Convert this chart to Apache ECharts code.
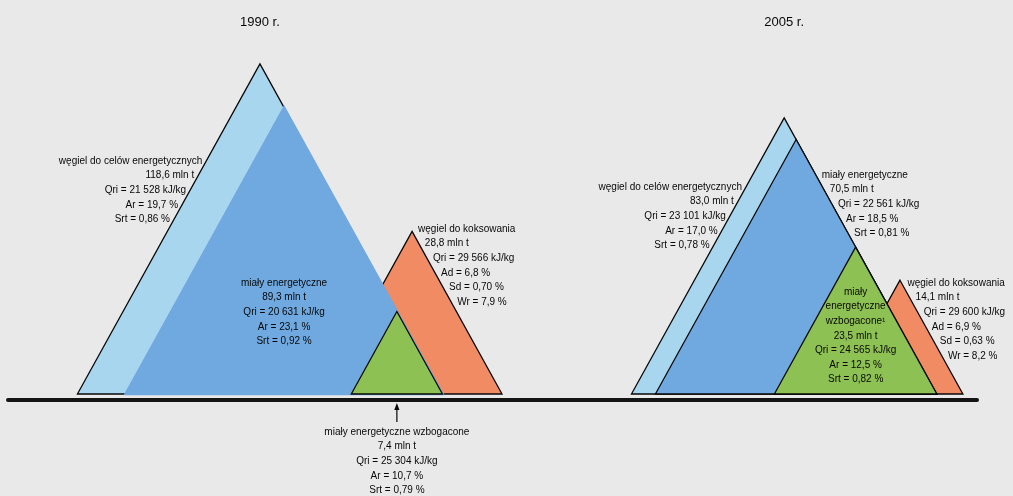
<!DOCTYPE html>
<html lang="pl">
<head>
<meta charset="utf-8">
<title>Wydobycie węgla kamiennego – 1990 i 2005</title>
<script src="https://cdn.jsdelivr.net/npm/echarts@6/dist/echarts.min.js"></script>
<style>
  html, body { margin: 0; padding: 0; background: #e9e9e9; }
  #chart { width: 1013px; height: 496px; }
</style>
</head>
<body>
<div id="chart"></div>
<script>
// Output of hard coal by product group (mln t) and mean quality parameters
const years = ['1990 r.', '2005 r.'];
const products = ['węgiel do celów energetycznych', 'miały energetyczne', 'miały energetyczne wzbogacone', 'węgiel do koksowania'];
const output1990 = [118.6, 89.3, 7.4, 28.8];
const output2005 = [83.0, 70.5, 23.5, 14.1];
const calorific1990 = [21528, 20631, 25304, 29566];   // Qri, kJ/kg
const calorific2005 = [23101, 22561, 24565, 29600];
const ash1990 = [19.7, 23.1, 10.7, 6.8];               // %
const ash2005 = [17.0, 18.5, 12.5, 6.9];
const sulphur1990 = [0.86, 0.92, 0.79, 0.70];          // %
const sulphur2005 = [0.78, 0.81, 0.82, 0.63];
const cokingMoisture = [7.9, 8.2];                     // Wr of coking coal, %
const ashSymbols = ['Ar', 'Ar', 'Ar', 'Ad'];
const sulphurSymbols = ['Srt', 'Srt', 'Srt', 'Sd'];

const outputs = [output1990, output2005];
const calorific = [calorific1990, calorific2005];
const ash = [ash1990, ash2005];
const sulphur = [sulphur1990, sulphur2005];

// Triangle area grows with tonnage: the height is sqrt(mln t) on the hidden y axis
const SLOPE = 0.553;          // half of the base divided by the height
const LINE = 14.6;            // label line spacing, px
const FONT = '10px "Liberation Sans", Arial, sans-serif';
const TITLE_FONT = '13px "Liberation Sans", Arial, sans-serif';
const INK = '#080808';
const colors = ['#a9d6ef', '#70a9e0', '#8ec153', '#f08b63'];
const drawOrder = [0, 3, 1, 2];

// Placement of each year's diagram along the x axis (0–100) and of its labels
const groupLayout = [
  {
    apex: 26.0, coking: 41.7,
    outlined: [true, false, true, true],
    labels: [
      { side: 'left', top: 161 },
      { side: 'inside', top: 283 },
      { side: 'below', top: 432 },
      { side: 'right', top: 229 }
    ]
  },
  {
    apex: 80.1, coking: 92.05,
    outlined: [true, true, true, true],
    labels: [
      { side: 'left', top: 187 },
      { side: 'right', top: 175 },
      { side: 'inside', top: 292, name: ['miały', 'energetyczne', 'wzbogacone¹'] },
      { side: 'right', top: 283 }
    ]
  }
];

const dec = (v, d) => v.toFixed(d).replace('.', ',');
const thousands = v => String(v).replace(/\B(?=(\d{3})+(?!\d))/g, ' ');

function labelLines(g, p, nameLines) {
  const lines = (nameLines || [products[p]]).slice();
  lines.push(dec(outputs[g][p], 1) + ' mln t');
  lines.push('Qri = ' + thousands(calorific[g][p]) + ' kJ/kg');
  lines.push(ashSymbols[p] + ' = ' + dec(ash[g][p], 1) + ' %');
  lines.push(sulphurSymbols[p] + ' = ' + dec(sulphur[g][p], 2) + ' %');
  if (p === 3) lines.push('Wr = ' + dec(cokingMoisture[g], 1) + ' %');
  return lines;
}

function textEl(str, x, y, align, font) {
  return {
    type: 'text', x: x, y: y, z2: 100, silent: true,
    style: {
      text: str, fill: INK, font: font || FONT,
      textAlign: align, align: align,
      textVerticalAlign: 'middle', verticalAlign: 'middle'
    }
  };
}

function renderTriangle(params, api) {
  const g = api.value(0);
  const p = api.value(1);
  const lay = groupLayout[g];
  const baseY = api.coord([0, 0])[1];
  const heightPx = v => api.size([0, Math.sqrt(v)])[1];
  const h = heightPx(api.value(2));
  const half = SLOPE * h;

  // nested products share the right edge of the main triangle
  let apexX;
  if (p === 3) {
    apexX = api.coord([lay.coking, 0])[0];
  } else {
    const rightBase = api.coord([lay.apex, 0])[0] + SLOPE * heightPx(outputs[g][0]);
    apexX = rightBase - half;
  }
  const apexY = baseY - h;

  const outlined = lay.outlined[p];
  const children = [{
    type: 'polygon', z2: params.dataIndex,
    shape: { points: [[apexX, apexY], [apexX + half, baseY], [apexX - half, baseY]] },
    style: {
      fill: colors[p],
      stroke: outlined ? INK : colors[p],
      lineWidth: outlined ? 1.3 : 2.6,
      lineJoin: 'miter'
    }
  }];

  if (p === 0) {
    children.push(textEl(years[g], apexX, 22, 'center', TITLE_FONT));
  }

  const spec = lay.labels[p];
  const lines = labelLines(g, p, spec.name);
  lines.forEach((str, i) => {
    const y = spec.top + i * LINE;
    const drop = SLOPE * Math.max(0, y - apexY);
    if (spec.side === 'left') {
      children.push(textEl(str, apexX - drop - 4, y, 'right'));
    } else if (spec.side === 'right') {
      children.push(textEl(str, apexX + drop + 6, y, 'left'));
    } else {
      children.push(textEl(str, apexX, y, 'center'));
    }
  });

  if (spec.side === 'below') {
    children.push({
      type: 'line', z2: 100, silent: true,
      shape: { x1: apexX, y1: baseY + 14, x2: apexX, y2: baseY + 28 },
      style: { stroke: INK, lineWidth: 1.2 }
    });
    children.push({
      type: 'polygon', z2: 100, silent: true,
      shape: { points: [[apexX, baseY + 9], [apexX - 2.6, baseY + 16], [apexX + 2.6, baseY + 16]] },
      style: { fill: INK }
    });
  }

  return { type: 'group', children: children };
}

const triangleData = [];
outputs.forEach((vals, g) => drawOrder.forEach(p => triangleData.push([g, p, vals[p]])));

const chart = echarts.init(document.getElementById('chart'), null, { renderer: 'canvas' });
chart.setOption({
  backgroundColor: '#e9e9e9',
  animation: false,
  grid: { left: 8, right: 36, top: 0, bottom: 102 },
  xAxis: {
    type: 'value', min: 0, max: 100, offset: 6,
    axisLine: { show: true, onZero: false, lineStyle: { color: '#141414', width: 4 } },
    axisTick: { show: false }, axisLabel: { show: false }, splitLine: { show: false }
  },
  yAxis: {
    type: 'value', min: 0, max: 13, show: false, splitLine: { show: false }
  },
  series: [{
    type: 'custom',
    renderItem: renderTriangle,
    data: triangleData,
    encode: { x: 0, y: 2 },
    clip: false,
    silent: true
  }]
});
</script>
</body>
</html>
